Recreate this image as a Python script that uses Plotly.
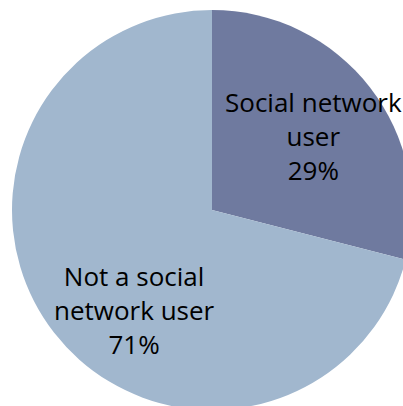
import plotly.graph_objects as go

labels = ["Social network<br>user", "Not a social<br>network user"]
values = [29, 71]
colors = ["#6f7a9f", "#a1b7ce"]

W, H = 424, 420
fig = go.Figure(go.Pie(
    labels=labels,
    values=values,
    marker=dict(colors=colors, line=dict(width=0)),
    sort=False,
    direction="clockwise",
    rotation=0,
    textinfo="none",
    hoverinfo="skip",
    showlegend=False,
    domain=dict(x=[12 / W, 412 / W], y=[10 / H, 410 / H]),
))

total = sum(values)
label_pos = [(313, 136), (134, 310)]  # pixel centres of label blocks
for lab, val, (px, py) in zip(labels, values, label_pos):
    fig.add_annotation(
        x=px / W, y=1 - py / H, xref="paper", yref="paper",
        xanchor="center", yanchor="middle", showarrow=False,
        text=f"{lab}<br>{round(100 * val / total)}%",
        font=dict(family="Comic Sans MS, Open Sans, sans-serif", size=26, color="#000000"),
        align="center",
    )

fig.update_layout(
    width=W, height=H,
    margin=dict(l=0, r=0, t=0, b=0),
    paper_bgcolor="white",
)
fig.write_html(
    "out.html",
    config={"displayModeBar": False},
    post_script="document.body.style.margin='0';document.body.style.overflow='hidden';document.documentElement.style.overflow='hidden';",
)
